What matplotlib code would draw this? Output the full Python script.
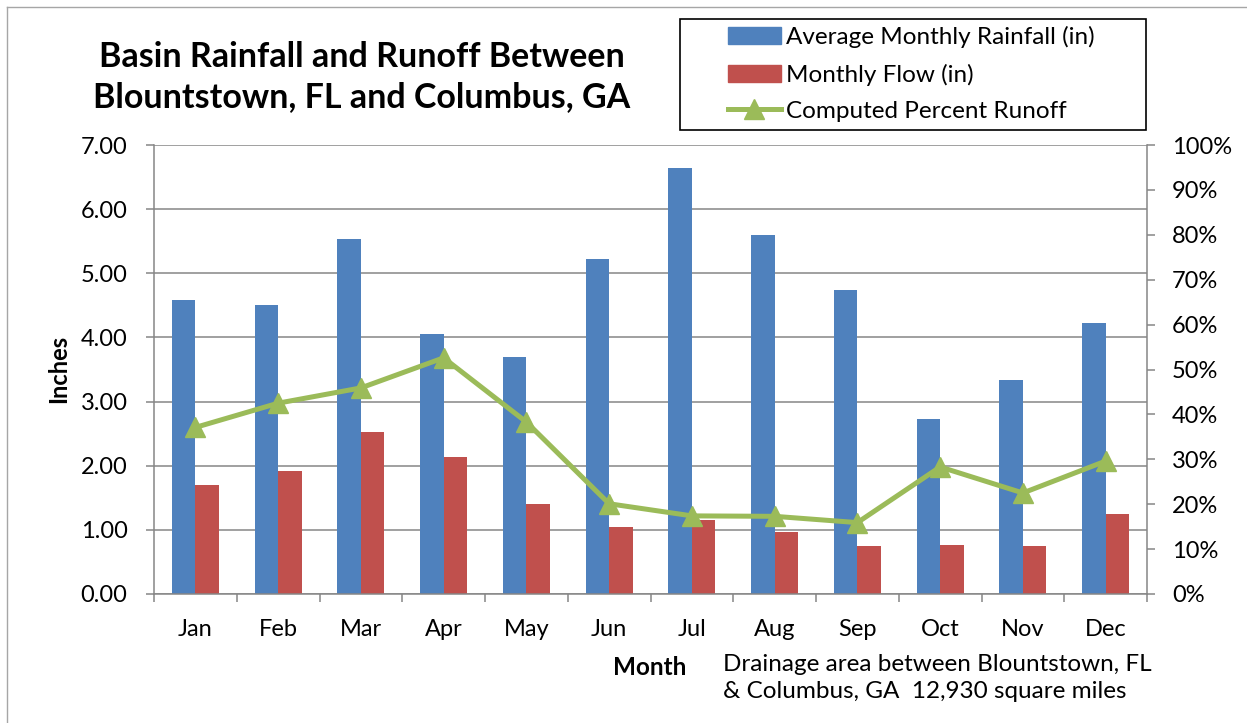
import numpy as np
import matplotlib
matplotlib.use('Agg')
import matplotlib.pyplot as plt
from matplotlib.lines import Line2D
from matplotlib.patches import Patch, Rectangle
from matplotlib.ticker import PercentFormatter, FixedLocator

plt.rcParams['font.family'] = ['Lato', 'DejaVu Sans']

# datos
months = ['Jan', 'Feb', 'Mar', 'Apr', 'May', 'Jun', 'Jul', 'Aug', 'Sep', 'Oct', 'Nov', 'Dec']
rainfall = [4.59, 4.50, 5.53, 4.05, 3.69, 5.23, 6.64, 5.60, 4.74, 2.73, 3.34, 4.22]
flow = [1.70, 1.91, 2.53, 2.13, 1.41, 1.05, 1.15, 0.97, 0.75, 0.77, 0.75, 1.25]
pct_runoff = [0.371, 0.425, 0.459, 0.526, 0.383, 0.201, 0.174, 0.173, 0.159, 0.283, 0.225, 0.296]

BLUE = '#4F81BD'
RED = '#C0504D'
GREEN = '#9BBB59'
GRAY = '#868686'

fig = plt.figure(figsize=(12.47, 7.23), dpi=100)
ax = fig.add_axes([154 / 1247, 129 / 723, 993 / 1247, 449 / 723])

x = np.arange(len(months))
w = 0.283
ax.bar(x - w / 2, rainfall, w, color=BLUE, zorder=2)
ax.bar(x + w / 2, flow, w, color=RED, zorder=2)

ax.set_xlim(-0.5, 11.5)
ax.set_ylim(0, 7)
ax.set_yticks(np.arange(0, 7.01, 1))
ax.set_yticklabels(['%.2f' % v for v in np.arange(0, 7.01, 1)])
ax.yaxis.grid(True, color=GRAY, lw=1.1)
ax.set_axisbelow(True)

# ticks del eje x entre categorias
ax.set_xticks(x)
ax.set_xticklabels(months)
ax.xaxis.set_minor_locator(FixedLocator(np.arange(-0.5, 12, 1)))
ax.tick_params(axis='x', which='major', length=0, pad=18, labelsize=17)
ax.tick_params(axis='x', which='minor', length=6, width=1.1, color=GRAY, direction='out')
ax.tick_params(axis='y', length=6, width=1.1, color=GRAY, direction='out', pad=13, labelsize=17)

for s in ['top', 'right']:
    ax.spines[s].set_visible(False)
for s in ['left', 'bottom']:
    ax.spines[s].set_color(GRAY)
    ax.spines[s].set_linewidth(1.1)

ax.set_ylabel('Inches', fontsize=17, fontweight='bold', va='center')
ax.yaxis.set_label_coords(-0.0957, 0.501)
ax.set_xlabel('Month', fontsize=17.5, fontweight='bold', va='center')
ax.xaxis.set_label_coords(0.4995, -0.1648)

# eje secundario con el porcentaje
ax2 = ax.twinx()
ax2.plot(x, pct_runoff, color=GREEN, lw=3.6, marker='^', ms=14, zorder=3)
ax2.set_ylim(0, 1)
ax2.set_yticks(np.arange(0, 1.01, 0.1))
ax2.yaxis.set_major_formatter(PercentFormatter(1.0, decimals=0))
ax2.tick_params(axis='y', length=6, width=1.1, color=GRAY, direction='out', pad=12, labelsize=17)
for s in ['top', 'left', 'bottom']:
    ax2.spines[s].set_visible(False)
ax2.spines['right'].set_color(GRAY)
ax2.spines['right'].set_linewidth(1.1)

# titulo
fig.text(362 / 1247, 1 - 77 / 723, 'Basin Rainfall and Runoff Between\nBlountstown, FL and Columbus, GA',
         ha='center', va='center', fontsize=24.5, fontweight='bold', linespacing=1.3)

# nota de area
fig.text(723 / 1247, 1 - 678 / 723, 'Drainage area between Blountstown, FL\n& Columbus, GA  12,930 square miles',
         ha='left', va='center', fontsize=17.5, linespacing=1.33)

# leyenda con marco a mano
handles = [Patch(color=BLUE), Patch(color=RED),
           Line2D([], [], color=GREEN, lw=3.6, marker='^', ms=14)]
labels = ['Average Monthly Rainfall (in)', 'Monthly Flow (in)', 'Computed Percent Runoff']
fig.legend(handles, labels, loc='center', bbox_to_anchor=(911 / 1247, 1 - 74 / 723),
           frameon=False, fontsize=17.5, handlelength=2.2, handletextpad=0.2,
           labelspacing=0.62, borderpad=0)
fig.patches.append(Rectangle((680 / 1247, 1 - 130 / 723), 466 / 1247, 111 / 723,
                             transform=fig.transFigure, fill=False, ec='black', lw=1.2))

# borde exterior del grafico
fig.add_artist(Line2D([7 / 1247, 7 / 1247], [0, 1 - 7 / 723], transform=fig.transFigure, color='#a6a6a6', lw=1))
fig.add_artist(Line2D([7 / 1247, 1], [1 - 7 / 723, 1 - 7 / 723], transform=fig.transFigure, color='#a6a6a6', lw=1))

fig.savefig('out.png', dpi=100)
